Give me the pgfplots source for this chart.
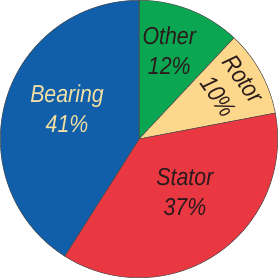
\documentclass[border=0pt]{standalone}
\usepackage{pgfplots}
\pgfplotsset{compat=1.18}
\usepackage{pgfplotstable}
\usepackage{fontspec}
\setmainfont{Liberation Sans}[FakeStretch=0.87]
\definecolor{cBearing}{HTML}{115EAA}
\definecolor{cOther}{HTML}{0BA651}
\definecolor{cRotor}{HTML}{FDD88C}
\definecolor{cStator}{HTML}{EA3842}
\definecolor{cEdge}{HTML}{4A4A4A}
\definecolor{cDark}{HTML}{2A1A1C}
\definecolor{cLight}{HTML}{F3E0A2}
% shares in percent, clockwise from 12 o'clock
\pgfplotstableread{
name   pct
Other  12
Rotor  10
Stator 37
Bearing 41
}\piedata
\pgfplotstablegetelem{0}{pct}\of\piedata \let\pOther\pgfplotsretval
\pgfplotstablegetelem{1}{pct}\of\piedata \let\pRotor\pgfplotsretval
\pgfplotstablegetelem{2}{pct}\of\piedata \let\pStator\pgfplotsretval
\pgfplotstablegetelem{3}{pct}\of\piedata \let\pBearing\pgfplotsretval
\pgfmathsetmacro\aA{90}
\pgfmathsetmacro\aB{\aA-3.6*\pOther}
\pgfmathsetmacro\aC{\aB-3.6*\pRotor}
\pgfmathsetmacro\aD{\aC-3.6*\pStator}
\pgfmathsetmacro\aE{\aD-3.6*\pBearing}
\def\R{133}
\begin{document}
\begin{tikzpicture}
\begin{axis}[
  scale only axis, width=278pt, height=273pt,
  xmin=-145, xmax=133, ymin=-136, ymax=137,
  hide axis, clip=false,
  every axis plot/.append style={draw=cEdge, line width=0.5pt, samples=60, variable=\t, line join=round},
]
\addplot[fill=cOther, domain=\aB:\aA] ({\R*cos(\t)},{\R*sin(\t)}) -- (axis cs:0,0) -- cycle;
\addplot[fill=cRotor, domain=\aC:\aB] ({\R*cos(\t)},{\R*sin(\t)}) -- (axis cs:0,0) -- cycle;
\addplot[fill=cStator, domain=\aD:\aC] ({\R*cos(\t)},{\R*sin(\t)}) -- (axis cs:0,0) -- cycle;
\addplot[fill=cBearing, domain=\aE:\aD] ({\R*cos(\t)},{\R*sin(\t)}) -- (axis cs:0,0) -- cycle;
\begin{scope}[every node/.style={font=\fontsize{23.5}{29}\selectfont\itshape, align=center, inner sep=0pt}]
\node[text=cDark] at (axis cs:29,85) {Other\\\pOther\%};
\node[text=cDark, rotate=-55] at (axis cs:88,49) {Rotor\\\pRotor\%};
\node[text=cDark] at (axis cs:44,-51) {Stator\\\pStator\%};
\node[text=cLight] at (axis cs:-69,29) {Bearing\\\pBearing\%};
\end{scope}
\end{axis}
\end{tikzpicture}
\end{document}
